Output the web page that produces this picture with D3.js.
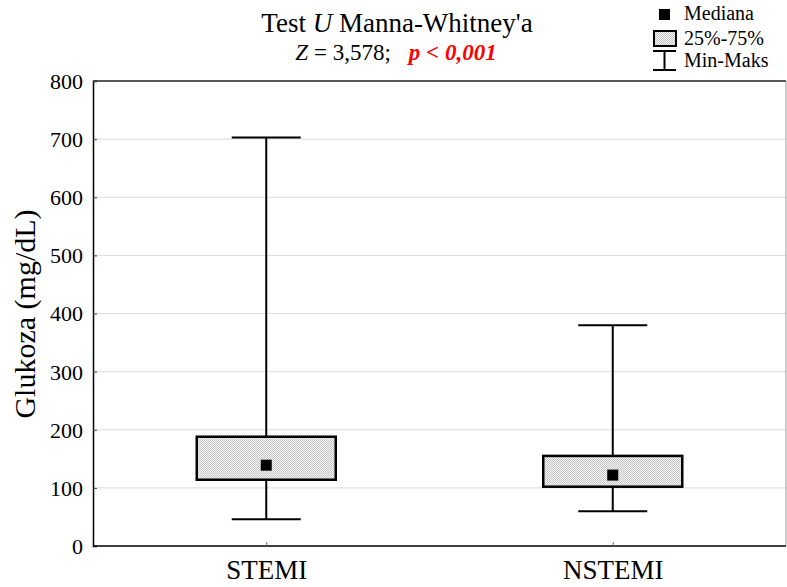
<!DOCTYPE html>
<html>
<head>
<meta charset="utf-8">
<script src="https://cdn.jsdelivr.net/npm/d3@7"></script>
</head>
<body style="margin:0">
<svg id="chart" width="787" height="587"></svg>
<script>
let categories = ["STEMI", "NSTEMI"]
let mins = [46, 60]
let q1 = [114, 102]
let medians = [139, 122]
let q3 = [188, 155]
let maxs = [703, 380]
let yTicks = [0, 100, 200, 300, 400, 500, 600, 700, 800]
let legendLabels = ["Mediana", "25%-75%", "Min-Maks"]

let margin = {top: 81, bottom: 41, left: 93, right: 1}
let width = 787
let height = 587
let w = width - (margin.left + margin.right)
let h = height - (margin.top + margin.bottom)
let fontName = "Liberation Serif"

let svg = d3.select("#chart")

// fine dotted fill of the boxes
let pat = svg.append("defs").append("pattern")
    .attr("id", "dots")
    .attr("width", 2).attr("height", 2)
    .attr("patternUnits", "userSpaceOnUse")
pat.append("rect").attr("width", 2).attr("height", 2).attr("fill", "#f6f6f6")
pat.append("rect").attr("width", 1).attr("height", 1).attr("fill", "#c4c4c4")
pat.append("rect").attr("x", 1).attr("y", 1).attr("width", 1).attr("height", 1).attr("fill", "#c4c4c4")

let xScale = d3.scalePoint().domain(categories).range([0, w]).padding(0.5)
let yScale = d3.scaleLinear().domain([0, 800]).range([h, 0])

let plot = svg.append("g")
    .attr("transform", "translate(" + margin.left + "," + margin.top + ")")

// grid
plot.append("g")
    .selectAll("line")
    .data(yTicks.filter(d => d > 0 && d < 800))
    .enter()
    .append("line")
    .attr("x1", 0).attr("x2", w)
    .attr("y1", d => yScale(d)).attr("y2", d => yScale(d))
    .attr("stroke", "#dcdcdc")

// frame
plot.append("line").attr("x1", w).attr("x2", w).attr("y1", 0).attr("y2", h)
    .attr("stroke", "#999")
plot.append("line").attr("x1", 0).attr("x2", w).attr("y1", 0).attr("y2", 0)
    .attr("stroke", "#222").attr("stroke-width", 1.5)

// axes
let yAxis = plot.append("g")
    .call(d3.axisLeft(yScale).tickValues(yTicks).tickSize(-4).tickPadding(14))
yAxis.select(".domain").attr("stroke-width", 1.5)
yAxis.selectAll(".tick line").attr("stroke", "#444")
yAxis.selectAll(".tick text").remove()
yAxis.selectAll(".tick").append("text")
    .attr("x", -10)
    .attr("dy", "0.34em")
    .attr("text-anchor", "end")
    .attr("fill", "#000")
    .attr("font-family", fontName)
    .attr("font-size", 22)
    .text(d => d)

let xAxis = plot.append("g")
    .attr("transform", "translate(0," + h + ")")
    .call(d3.axisBottom(xScale).tickSize(-4))
xAxis.select(".domain").attr("stroke-width", 1.5).attr("d", "M0,0H" + w)
xAxis.selectAll(".tick line").attr("stroke", "#666")
xAxis.selectAll(".tick text").remove()
xAxis.selectAll(".tick").append("text")
    .attr("y", 33)
    .attr("text-anchor", "middle")
    .attr("fill", "#000")
    .attr("font-family", fontName)
    .attr("font-size", 27)
    .text(d => d)

// whiskers and boxes
let boxW = 139
let capW = 69
let groups = plot.selectAll(".box")
    .data(categories)
    .enter()
    .append("g")
    .attr("class", "box")

groups.append("line")
    .attr("x1", d => xScale(d)).attr("x2", d => xScale(d))
    .attr("y1", (d, i) => yScale(maxs[i])).attr("y2", (d, i) => yScale(mins[i]))
    .attr("stroke", "#000").attr("stroke-width", 2)

groups.append("line")
    .attr("x1", d => xScale(d) - capW / 2).attr("x2", d => xScale(d) + capW / 2)
    .attr("y1", (d, i) => yScale(maxs[i])).attr("y2", (d, i) => yScale(maxs[i]))
    .attr("stroke", "#000").attr("stroke-width", 2)

groups.append("line")
    .attr("x1", d => xScale(d) - capW / 2).attr("x2", d => xScale(d) + capW / 2)
    .attr("y1", (d, i) => yScale(mins[i])).attr("y2", (d, i) => yScale(mins[i]))
    .attr("stroke", "#000").attr("stroke-width", 2)

groups.append("rect")
    .attr("x", d => xScale(d) - boxW / 2)
    .attr("y", (d, i) => yScale(q3[i]))
    .attr("width", boxW)
    .attr("height", (d, i) => yScale(q1[i]) - yScale(q3[i]))
    .attr("fill", "url(#dots)")
    .attr("stroke", "#000").attr("stroke-width", 2.5)

groups.append("rect")
    .attr("x", d => xScale(d) - 5.5)
    .attr("y", (d, i) => yScale(medians[i]) - 5.5)
    .attr("width", 11).attr("height", 11)
    .attr("fill", "#000")

// y label
svg.append("text")
    .attr("transform", "translate(35,314) rotate(-90)")
    .attr("text-anchor", "middle")
    .attr("font-family", fontName)
    .attr("font-size", 30)
    .text("Glukoza (mg/dL)")

// title
let title = svg.append("text")
    .attr("x", 397).attr("y", 32)
    .attr("text-anchor", "middle")
    .attr("font-family", fontName)
    .attr("font-size", 27)
title.append("tspan").text("Test ")
title.append("tspan").attr("font-style", "italic").text("U")
title.append("tspan").text(" Manna-Whitney'a")

let sub = svg.append("text")
    .attr("x", 396).attr("y", 60)
    .attr("text-anchor", "middle")
    .attr("font-family", fontName)
    .attr("font-size", 23)
sub.append("tspan").attr("font-style", "italic").text("Z")
sub.append("tspan").text(" = 3,578;")
sub.append("tspan").attr("dx", 18)
    .attr("font-style", "italic").attr("font-weight", "bold").attr("fill", "#f00")
    .text("p < 0,001")

// legend
let legend = svg.append("g")
legend.append("rect").attr("x", 659).attr("y", 9).attr("width", 11).attr("height", 11).attr("fill", "#000")
legend.append("rect").attr("x", 654).attr("y", 31).attr("width", 22).attr("height", 15)
    .attr("fill", "url(#dots)").attr("stroke", "#000").attr("stroke-width", 2)
legend.append("line").attr("x1", 653).attr("x2", 676).attr("y1", 51).attr("y2", 51)
    .attr("stroke", "#000").attr("stroke-width", 2)
legend.append("line").attr("x1", 664.5).attr("x2", 664.5).attr("y1", 51).attr("y2", 70)
    .attr("stroke", "#000").attr("stroke-width", 2)
legend.append("line").attr("x1", 653).attr("x2", 676).attr("y1", 70).attr("y2", 70)
    .attr("stroke", "#000").attr("stroke-width", 2)

let legendY = [20, 45, 67]
legend.selectAll(".lab")
    .data(legendLabels)
    .enter()
    .append("text")
    .attr("x", 684)
    .attr("y", (d, i) => legendY[i])
    .attr("font-family", fontName)
    .attr("font-size", 20)
    .text(d => d)
</script>
</body>
</html>
